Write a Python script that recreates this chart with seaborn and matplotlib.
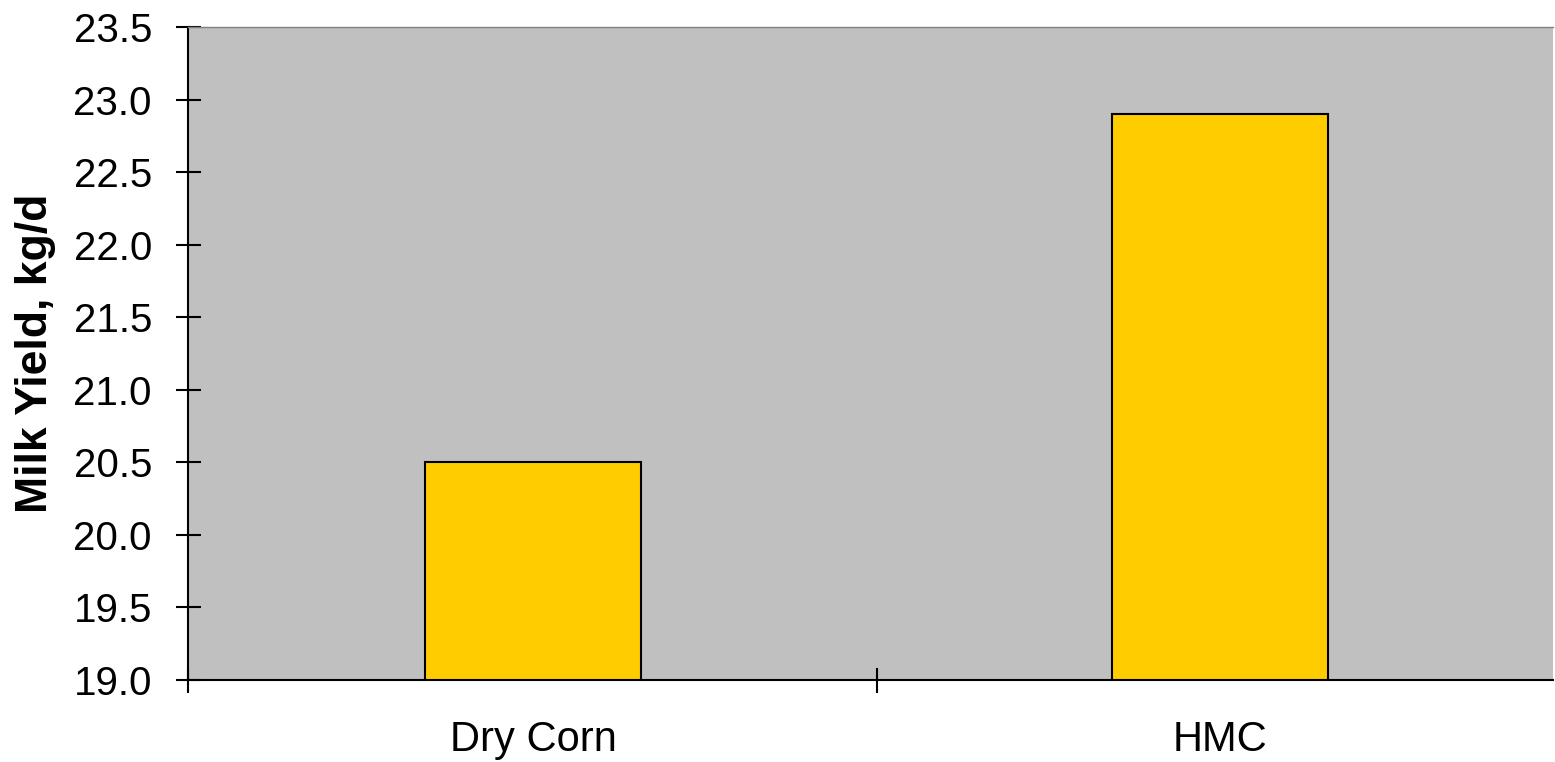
import matplotlib
matplotlib.use("Agg")
import matplotlib.pyplot as plt
import seaborn as sns
import pandas as pd
from matplotlib.ticker import FixedLocator, FormatStrFormatter

# Milk yield by corn type
diets = ["Dry Corn", "HMC"]
milk_yield = [20.5, 22.9]
y_ticks = [19.0, 19.5, 20.0, 20.5, 21.0, 21.5, 22.0, 22.5, 23.0, 23.5]

df = pd.DataFrame({"diet": diets, "yield": milk_yield})

sns.set_theme(style="white")
plt.rcParams["font.family"] = ["Liberation Sans", "DejaVu Sans"]
plt.rcParams["text.color"] = "black"
plt.rcParams["axes.labelcolor"] = "black"
plt.rcParams["xtick.color"] = "black"
plt.rcParams["ytick.color"] = "black"

fig = plt.figure(figsize=(15.55, 7.62), dpi=100)
ax = fig.add_axes([188 / 1555, 1 - 680 / 762, 1365 / 1555, 653 / 762])
ax.set_facecolor("#C0C0C0")

sns.barplot(data=df, x="diet", y="yield", color="#FFCC00", saturation=1,
            edgecolor="black", linewidth=1.5, width=0.314, ax=ax)

ax.set_xlim(-0.502, 1.484)
ax.set_ylim(19.0, 23.5)
ax.yaxis.set_major_locator(FixedLocator(y_ticks))
ax.yaxis.set_major_formatter(FormatStrFormatter("%.1f"))

# category boundaries as major ticks, names as minor ticks
ax.xaxis.set_major_locator(FixedLocator([-0.502, 0.5]))
ax.set_xticklabels(["", ""])
ax.xaxis.set_minor_locator(FixedLocator([0, 1]))
ax.set_xticklabels(diets, minor=True)

ax.tick_params(axis="y", which="major", direction="inout", length=18, width=1.5,
               colors="black", labelsize=29, pad=17, left=True)
ax.tick_params(axis="x", which="major", direction="inout", length=18, width=1.5,
               colors="black", bottom=True)
ax.tick_params(axis="x", which="minor", length=0, labelsize=30, pad=29,
               labelcolor="black")

for name in ("left", "bottom"):
    ax.spines[name].set_color("black")
    ax.spines[name].set_linewidth(1.5)
ax.spines["top"].set_color("#808080")
ax.spines["top"].set_linewidth(1.0)
ax.spines["right"].set_visible(False)

ax.set_xlabel("")
ax.set_ylabel("Milk Yield, kg/d", fontsize=32, fontweight="bold", labelpad=12.5,
              color="black")

fig.savefig("out.png", dpi=100, facecolor="white")
